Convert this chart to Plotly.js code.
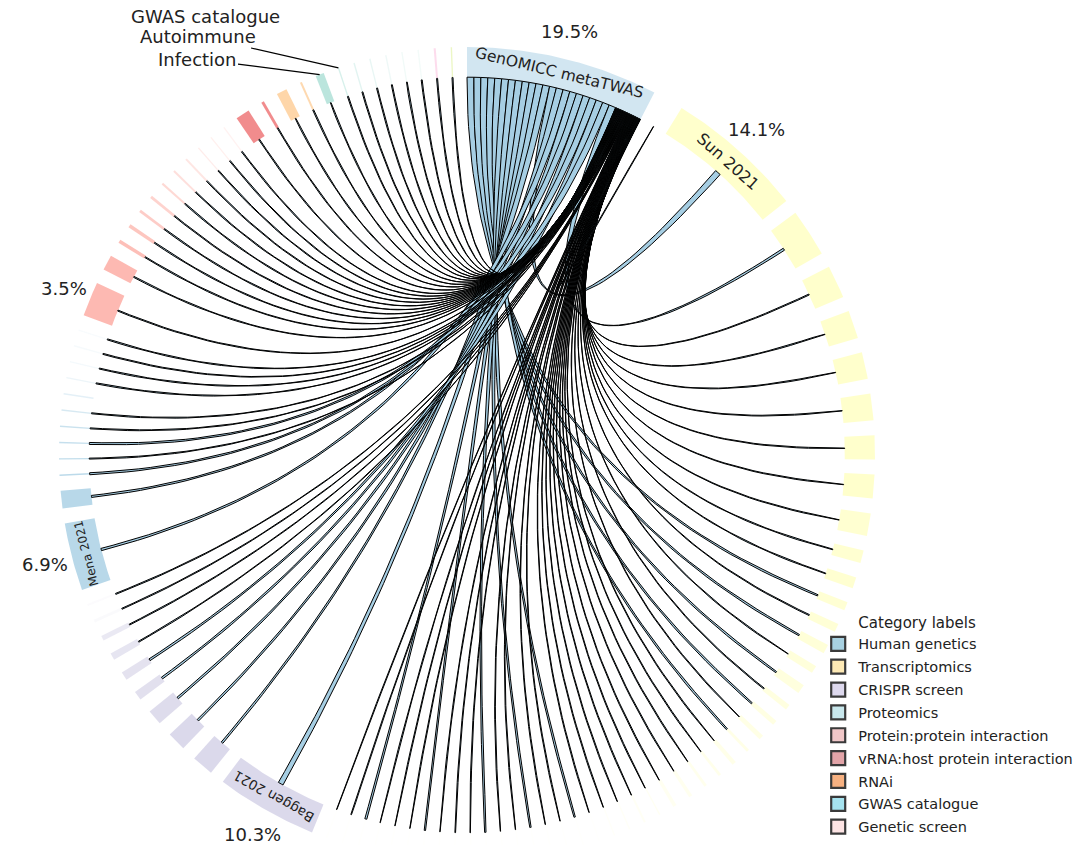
<!DOCTYPE html>
<html><head><meta charset="utf-8">
<script src="https://cdn.plot.ly/plotly-3.0.1.min.js"></script>
<style>html,body{margin:0;padding:0;background:#fff;overflow:hidden;}#chart{width:1078px;height:845px;}</style>
</head><body><div id="chart"></div>
<script>
// ---------------- DATA ----------------
// sectors, clockwise from the top of the circle
const sectorNames = ["GenOMICC metaTWAS","TR-00","Sun 2021",
 "TR-01","TR-02","TR-03","TR-04","TR-05","TR-06","TR-07","TR-08","TR-09",
 "TR-10","TR-11","TR-12","TR-13","TR-14","TR-15","TR-16","TR-17","TR-18","TR-19","TR-20","TR-21","TR-22","TR-23","TR-24","TR-25","TR-26","TR-27","TR-28",
 "TR-29","TR-30","TR-31","TR-32","TR-33","TR-34","TR-35","TR-36","TR-37","TR-38","TR-39","TR-40","TR-41","TR-42","TR-43","TR-44","TR-45","TR-46",
 "Baggen 2021","CR-01","CR-02","CR-03","CR-04","CR-05","CR-06","CR-07","CR-08","CR-09",
 "Mena 2021","HG-01","HG-02","HG-03","HG-04","HG-05","HG-06","HG-07","HG-08","HG-09","HG-10","HG-11",
 "PPI-01","PPI-02","PPI-03","PPI-04","PPI-05","PPI-06","PPI-07","PPI-08","PPI-09","PPI-10","PPI-11","PPI-12",
 "VR-01","VR-02","RNAi-01","RNAi-02","Infection","Autoimmune",
 "PR-01","PR-02","PR-03","PR-04","PR-05","GS-01","OT-01"];
const sectorCategory = ["HG","TR","TR",
 "TR","TR","TR","TR","TR","TR","TR","TR","TR",
 "TR","TR","TR","TR","TR","TR","TR","TR","TR","TR","TR","TR","TR","TR","TR","TR","TR","TR","TR",
 "TR","TR","TR","TR","TR","TR","TR","TR","TR","TR","TR","TR","TR","TR","TR","TR","TR","TR",
 "CR","CR","CR","CR","CR","CR","CR","CR","CR","CR",
 "HG","HG","HG","HG","HG","HG","HG","HG","HG","HG","HG","HG",
 "PPI","PPI","PPI","PPI","PPI","PPI","PPI","PPI","PPI","PPI","PPI","PPI",
 "VR","VR","RNAi","RNAi","GWAS","GWAS",
 "PR","PR","PR","PR","PR","GS","OT"];
// share of genes (%)
const sectorValue = [19.5,0.14,14.1,
 4.86,3.36,2.86,2.71,2.71,2.43,2.43,2.29,1.29,
 1.14,0.86,0.86,0.93,0.79,0.93,0.57,0.5,0.5,0.29,0.43,0.29,0.29,0.36,0.36,0.14,0.21,0.14,0.14,
 0.14,0.14,0.14,0.14,0.14,0.14,0.14,0.14,0.14,0.14,0.14,0.14,0.14,0.14,0.14,0.14,0.14,0.14,
 10.3,2.21,1.93,1.57,0.93,0.86,0.71,0.5,0.29,0.21,
 6.9,1.79,0.14,0.14,0.14,0.14,0.14,0.14,0.14,0.14,0.14,0.14,
 3.5,1.57,0.36,0.36,0.29,0.29,0.21,0.21,0.21,0.14,0.14,0.14,
 1.43,0.29,1.07,0.21,0.86,0.14,
 0.14,0.14,0.14,0.14,0.14,0.21,0.14];
// strength of each sector's shading
const sectorAlpha = [0.5,0,0.5,
 0.5,0.5,0.5,0.5,0.5,0.5,0.5,0.45,0.45,
 0.45,0.42,0.4,0.38,0.35,0.32,0.3,0.28,0.26,0.24,0.22,0.2,0.18,0.16,0.14,0.12,0.1,0.08,0.06,
 0.02,0.02,0.02,0.02,0.02,0.02,0.02,0.02,0.02,0.02,0.02,0.02,0.02,0.02,0.02,0.02,0.02,0.02,
 0.55,0.55,0.55,0.5,0.45,0.42,0.38,0.32,0.08,0.05,
 0.8,0.8,0.75,0.7,0.65,0.6,0.45,0.3,0.2,0.12,0.1,0.08,
 0.55,0.55,0.5,0.45,0.4,0.35,0.3,0.25,0.2,0.15,0.12,0.1,
 0.5,0.5,0.55,0.5,0.6,0.35,
 0.25,0.2,0.15,0.12,0.1,0.7,0.5];

const categoryCodes  = ["HG","TR","CR","PR","PPI","VR","RNAi","GWAS","GS"];
const categoryLabels = ["Human genetics","Transcriptomics","CRISPR screen","Proteomics","Protein:protein interaction","vRNA:host protein interaction","RNAi","GWAS catalogue","Genetic screen"];

// links from the hub, in order along the hub sector
const hubSector = "GenOMICC metaTWAS";
const linkTargets = ["TR-11","TR-13","TR-15","TR-17","TR-19","TR-30","TR-33","TR-36","TR-40","TR-44","Baggen 2021","CR-01","Sun 2021","CR-02","Mena 2021","CR-03","HG-01","CR-04","HG-02","CR-05","HG-04","TR-01",
 "OT-01","GS-01","PR-05","PR-04","PR-03","PR-02","PR-01","Autoimmune","Infection","RNAi-02","RNAi-01","VR-02","VR-01",
 "PPI-12","PPI-11","PPI-10","PPI-09","PPI-08","PPI-07","PPI-06","PPI-05","PPI-04","PPI-03","PPI-02","PPI-01",
 "HG-11","HG-10","HG-09","HG-08","HG-06","HG-05","HG-03","CR-09","CR-08","CR-07","CR-06",
 "TR-46","TR-45","TR-43","TR-42","TR-41","TR-39","TR-38","TR-37","TR-35","TR-34","TR-32","TR-31","TR-29",
 "TR-28","TR-27","TR-26","TR-25","TR-24","TR-23","TR-22","TR-21","TR-20","TR-18","TR-16","TR-14","TR-12","TR-10",
 "TR-09","TR-08","TR-07","TR-06","TR-05","TR-04","TR-03","TR-02","TR-00"];
const linkHubWeight = [1,1,1,1,1,1,1,1,1,1,1,1,1,1,1,1,1,1,1,1,1,1,
 0.055,0.055,0.055,0.055,0.055,0.055,0.055,0.055,0.055,0.055,0.055,0.055,0.055,
 0.055,0.055,0.055,0.055,0.055,0.055,0.055,0.055,0.055,0.055,0.055,0.055,
 0.055,0.055,0.055,0.055,0.055,0.055,0.055,0.055,0.055,0.055,0.055,
 0.055,0.055,0.055,0.055,0.055,0.055,0.055,0.055,0.055,0.055,0.055,0.055,0.055,
 0.055,0.055,0.055,0.055,0.055,0.055,0.055,0.055,0.055,0.055,0.055,0.055,0.055,0.055,
 0.055,0.055,0.055,0.055,0.055,0.055,0.055,0.055,0.055];
const linkEndWeight = [0.22,0.22,0.22,0.22,0.22,0.22,0.22,0.22,0.22,0.22,0.57,0.22,0.64,0.22,0.25,0.22,0.22,0.22,0.22,0.22,0.22,0.25,
 0.11,0.11,0.11,0.11,0.11,0.11,0.11,0.11,0.11,0.11,0.11,0.11,0.11,
 0.11,0.11,0.11,0.11,0.11,0.11,0.11,0.11,0.11,0.11,0.11,0.11,
 0.11,0.11,0.11,0.11,0.11,0.11,0.11,0.11,0.11,0.11,0.11,
 0.11,0.11,0.11,0.11,0.11,0.11,0.11,0.11,0.11,0.11,0.11,0.11,0.11,
 0.11,0.11,0.11,0.11,0.11,0.11,0.11,0.11,0.11,0.11,0.11,0.11,0.11,0.11,
 0.11,0.11,0.11,0.11,0.11,0.11,0.11,0.11,0.11];

const pctLabelled  = ["GenOMICC metaTWAS","Sun 2021","Baggen 2021","Mena 2021","PPI-01"];
const nameLabelled = ["GenOMICC metaTWAS","Sun 2021","Baggen 2021","Mena 2021"];

// ---------------- STYLE ----------------
const ringColor = {HG:"#a6cee3",TR:"#ffff99",CR:"#bebada",PR:"#8dd3c7",PPI:"#fb8072",VR:"#e31a1c",RNAi:"#fdb462",GWAS:"#8dd3c7",GS:"#fccde5",OT:"#d9ef8b"};
const legendColor = {HG:"#a8d1e1",TR:"#fde9b5",CR:"#ddd8ed",PR:"#c8e7ec",PPI:"#f0c7c8",VR:"#e2a4a8",RNAi:"#f7b181",GWAS:"#a6e3ef",GS:"#fde4e4"};
const nameFont = {"GenOMICC metaTWAS":15.5,"Sun 2021":16,"Baggen 2021":13.5,"Mena 2021":12};
const FONT = "DejaVu Sans, Verdana, sans-serif";
const GAP = 2.1, R_IN = 0.926, R_OUT = 1.0, R_NAME = 0.963, R_PCT = 1.068;
const DEG = Math.PI/180;
const PXR = 408, CX = 467, CY = 455, W = 1078, H = 845;
const toX = px => (px-CX)/PXR, toY = py => (CY-py)/PXR;

function rgba(hex,a){const n=parseInt(hex.slice(1),16);return `rgba(${n>>16},${(n>>8)&255},${n&255},${a})`;}
function pt(r,th){return [r*Math.sin(th*DEG), r*Math.cos(th*DEG)];}
function arc(r,t0,t1,n){const o=[];for(let k=0;k<=n;k++)o.push(pt(r,t0+(t1-t0)*k/n));return o;}
function quad(p0,p2,n){const o=[];for(let k=1;k<n;k++){const s=k/n;o.push([(1-s)*(1-s)*p0[0]+s*s*p2[0],(1-s)*(1-s)*p0[1]+s*s*p2[1]]);}return o;}

// layout of sectors
const total = sectorValue.reduce((a,b)=>a+b,0);
const degPerUnit = (360 - GAP*sectorNames.length)/total;
const sStart=[], sEnd=[];
let acc = 0;
sectorValue.forEach((v,i)=>{sStart[i]=acc;sEnd[i]=acc+v*degPerUnit;acc=sEnd[i]+GAP;});
const idx = n => sectorNames.indexOf(n);
const mid = i => (sStart[i]+sEnd[i])/2;

const traces = [];
// ring
sectorNames.forEach((n,i)=>{
  const m = Math.max(2, Math.ceil((sEnd[i]-sStart[i])*2));
  const p = arc(R_OUT,sStart[i],sEnd[i],m).concat(arc(R_IN,sEnd[i],sStart[i],m));
  p.push(p[0]);
  traces.push({type:"scatter",mode:"lines",x:p.map(q=>q[0]),y:p.map(q=>q[1]),fill:"toself",
    fillcolor:rgba(ringColor[sectorCategory[i]],sectorAlpha[i]),line:{width:0,color:"rgba(0,0,0,0)"},
    hoverinfo:"skip",showlegend:false});
});
// links (ribbons with quadratic curves through the centre)
const hub = idx(hubSector);
const hubScale = (sEnd[hub]-sStart[hub])/linkHubWeight.reduce((a,b)=>a+b,0);
let hAcc = sStart[hub];
linkTargets.forEach((t,j)=>{
  const h0 = hAcc, h1 = hAcc + linkHubWeight[j]*hubScale; hAcc = h1;
  const ti = idx(t), c = mid(ti), half = linkEndWeight[j]*degPerUnit/2;
  const t0 = c-half, t1 = c+half;
  let p = arc(R_IN,h0,h1,Math.max(2,Math.ceil((h1-h0)*2)));
  p = p.concat(quad(pt(R_IN,h1),pt(R_IN,t0),60));
  p = p.concat(arc(R_IN,t0,t1,3));
  p = p.concat(quad(pt(R_IN,t1),pt(R_IN,h0),60));
  p.push(pt(R_IN,h0));
  traces.push({type:"scatter",mode:"lines",x:p.map(q=>q[0]),y:p.map(q=>q[1]),fill:"toself",
    fillcolor:ringColor[sectorCategory[hub]],line:{width:1,color:"#000"},hoverinfo:"skip",showlegend:false});
});
// legend entries
categoryCodes.forEach((c,k)=>{
  traces.push({type:"scatter",mode:"markers",x:[50],y:[50],name:categoryLabels[k],legendgroup:c,
    marker:{symbol:"square",size:14,color:legendColor[c],line:{width:2.2,color:"#3a3a3a"}},hoverinfo:"skip"});
});

// annotations
const annotations = [];
nameLabelled.forEach(n=>{
  const i = idx(n), c = mid(i), p = pt(R_NAME,c);
  const ta = ((c+180)%360)-180;
  annotations.push({x:p[0],y:p[1],xref:"x",yref:"y",text:n,showarrow:false,textangle:ta,
    font:{size:nameFont[n],family:FONT,color:"#222"}});
});
pctLabelled.forEach(n=>{
  const i = idx(n), p = pt(R_PCT,mid(i));
  annotations.push({x:p[0],y:p[1],xref:"x",yref:"y",text:sectorValue[i].toFixed(1)+"%",showarrow:false,
    font:{size:18,family:FONT,color:"#222"}});
});
[["Autoimmune",198,36],["Infection",197,59]].forEach(([n,tx,ty])=>{
  const p = pt(R_OUT,mid(idx(n)));
  annotations.push({x:p[0],y:p[1],xref:"x",yref:"y",text:n,showarrow:true,arrowhead:0,arrowwidth:1.2,
    arrowcolor:"#000",axref:"x",ayref:"y",ax:toX(tx),ay:toY(ty),font:{size:18,family:FONT,color:"#222"}});
});
annotations.push({x:toX(205),y:toY(16),xref:"x",yref:"y",xanchor:"center",yanchor:"middle",text:"GWAS catalogue",showarrow:false,
  font:{size:18,family:FONT,color:"#222"}});

const nb = "\u00a0";
const layout = {
  width:W,height:H,margin:{l:0,r:0,t:0,b:0,autoexpand:false},paper_bgcolor:"#fff",plot_bgcolor:"#fff",
  font:{family:FONT,color:"#222"},
  xaxis:{range:[-CX/PXR,(W-CX)/PXR],visible:false,fixedrange:true},
  yaxis:{range:[(CY-H)/PXR,CY/PXR],visible:false,fixedrange:true},
  showlegend:true,
  legend:{xref:"container",yref:"container",x:0.759,y:0.28,xanchor:"left",yanchor:"top",bgcolor:"rgba(0,0,0,0)",
    font:{size:14.5,family:FONT,color:"#222"},tracegroupgap:1,itemwidth:30,
    title:{text:nb.repeat(8)+"Category labels",font:{size:15,family:FONT,color:"#222"}}},
  annotations:annotations
};
Plotly.newPlot("chart",traces,layout,{displayModeBar:false,staticPlot:true});
</script>
</body></html>
